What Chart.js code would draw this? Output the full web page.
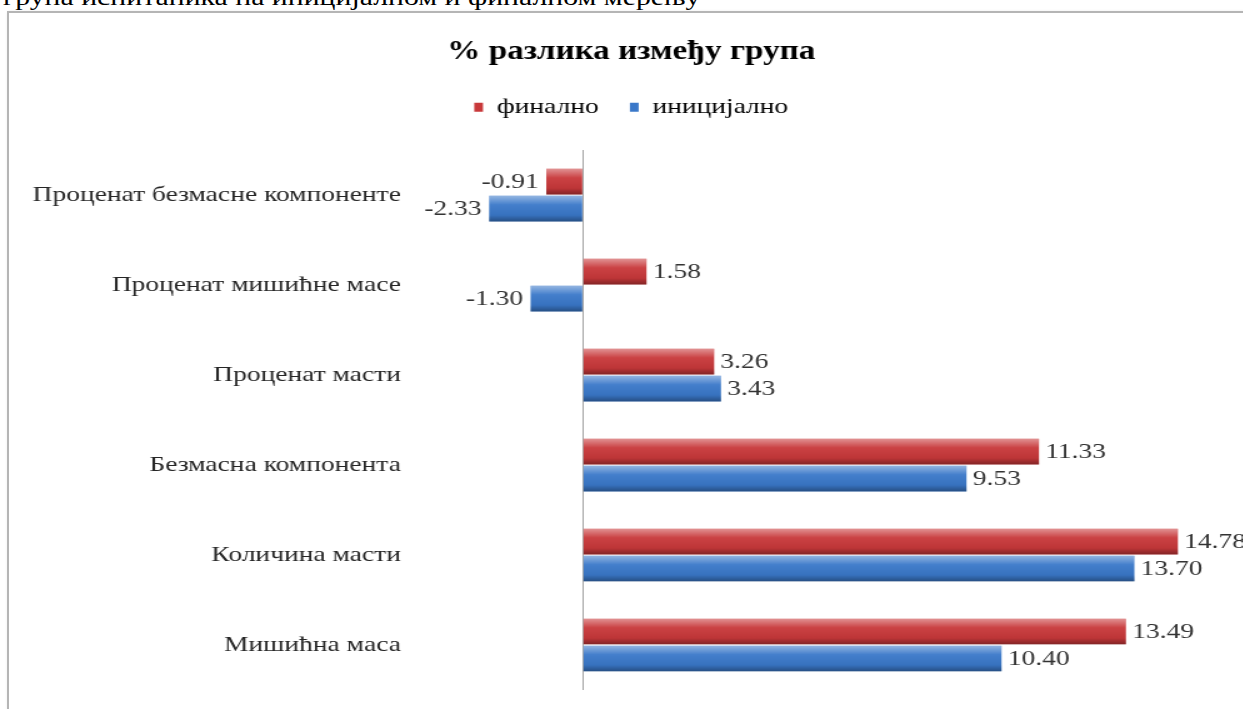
<!DOCTYPE html>
<html>
<head>
<meta charset="utf-8">
<script src="https://cdn.jsdelivr.net/npm/chart.js@4"></script>
<style>
html, body { margin: 0; padding: 0; background: #fff; overflow: hidden; }
body { width: 1243px; height: 709px; position: relative; }
#caption { position: absolute; left: 3px; top: -15px; font-family: "Liberation Serif", "Times New Roman", serif; font-size: 24px; line-height: 24px; white-space: nowrap; transform: scaleX(1.24); transform-origin: 0 0; color: #000; }
#frame { position: absolute; left: 7px; top: 11px; width: 1260px; height: 720px; border: 2px solid #b5b5b5; box-shadow: 1px 1px 3px rgba(0,0,0,0.15); }
#wrap { position: absolute; left: 20px; top: 0; width: 978px; height: 709px; transform: scaleX(1.25); transform-origin: 0 0; }
</style>
</head>
<body>
<div id="caption">група испитаника на иницијалном и финалном мерењу</div>
<div id="frame"></div>
<div id="wrap"><canvas id="chart"></canvas></div>
<script>
'use strict';

const categories = ['Проценат безмасне компоненте', 'Проценат мишићне масе', 'Проценат масти',
    'Безмасна компонента', 'Количина масти', 'Мишићна маса'];
const finalno = [-0.91, 1.58, 3.26, 11.33, 14.78, 13.49];
const inicijalno = [-2.33, -1.30, 3.43, 9.53, 13.70, 10.40];
const seriesNames = ['финално', 'иницијално'];

const SERIF = "'Liberation Serif', 'Times New Roman', serif";

// light on top, dark at the bottom, like the office 3d bars
const barShine = {
    id: 'barShine',
    afterDatasetsDraw(chart) {
        const c = chart.ctx;
        c.save();
        chart.data.datasets.forEach((ds, di) => {
            chart.getDatasetMeta(di).data.forEach(bar => {
                const p = bar.getProps(['x', 'y', 'base', 'height']);
                const top = p.y - p.height / 2;
                const g = c.createLinearGradient(0, top, 0, top + p.height);
                g.addColorStop(0, 'rgba(255,255,255,0.45)');
                g.addColorStop(0.35, 'rgba(255,255,255,0.05)');
                g.addColorStop(0.75, 'rgba(0,0,0,0.05)');
                g.addColorStop(1, 'rgba(0,0,0,0.35)');
                c.fillStyle = g;
                c.fillRect(Math.min(p.x, p.base), top, Math.abs(p.x - p.base), p.height);
            });
        });
        c.restore();
    }
};

const valueLabels = {
    id: 'valueLabels',
    afterDatasetsDraw(chart) {
        const c = chart.ctx;
        c.save();
        c.font = '22px ' + SERIF;
        c.fillStyle = '#333';
        c.textBaseline = 'middle';
        chart.data.datasets.forEach((ds, di) => {
            chart.getDatasetMeta(di).data.forEach((bar, i) => {
                const v = ds.data[i];
                c.textAlign = v < 0 ? 'right' : 'left';
                c.fillText(v.toFixed(2), bar.x + (v < 0 ? -6 : 5), bar.y + 1);
            });
        });
        c.restore();
    }
};

function draw() {
    let chartCtx = document.getElementById('chart').getContext('2d');
    new Chart(chartCtx, {
        type: 'bar',
        data: {
            labels: categories,
            datasets: [{
                label: seriesNames[0],
                data: finalno,
                backgroundColor: '#c8383a',
                categoryPercentage: 0.6,
                barPercentage: 0.95
            }, {
                label: seriesNames[1],
                data: inicijalno,
                backgroundColor: '#3a78c9',
                categoryPercentage: 0.6,
                barPercentage: 0.95
            }]
        },
        options: {
            indexAxis: 'y',
            responsive: true,
            maintainAspectRatio: false,
            animation: false,
            layout: {
                padding: { top: 0, left: 6, right: 6, bottom: 19 }
            },
            plugins: {
                title: {
                    display: true,
                    text: '% разлика између група',
                    color: '#000',
                    font: { family: SERIF, size: 26.5, weight: 'bold' },
                    padding: { top: 36, bottom: 3.4 }
                },
                legend: {
                    position: 'top',
                    labels: {
                        boxWidth: 7,
                        boxHeight: 9,
                        padding: 25,
                        color: '#000',
                        font: { family: SERIF, size: 22 }
                    }
                },
                tooltip: { enabled: false }
            },
            scales: {
                x: {
                    position: 'top',
                    min: -4.15,
                    max: 16.2,
                    ticks: { display: false },
                    border: { display: false },
                    grid: {
                        drawTicks: false,
                        color: c => (c.tick && c.tick.value === 0) ? '#a6a6a6' : 'rgba(0,0,0,0)'
                    },
                    afterFit: s => { s.height = 22; }
                },
                y: {
                    grid: { display: false },
                    border: { display: false },
                    ticks: {
                        color: '#262626',
                        padding: 4,
                        font: { family: SERIF, size: 22 }
                    }
                }
            }
        },
        plugins: [barShine, valueLabels]
    });
}

Promise.all([
    document.fonts.load('22px "Liberation Serif"'),
    document.fonts.load('bold 22px "Liberation Serif"')
]).then(draw, draw);
</script>
</body>
</html>
